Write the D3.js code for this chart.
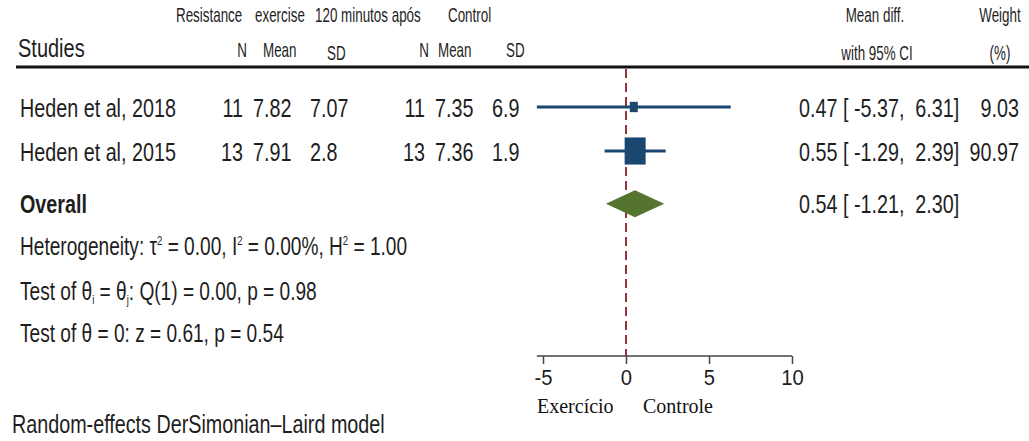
<!DOCTYPE html>
<html><head><meta charset="utf-8">
<script src="https://cdn.jsdelivr.net/npm/d3@7"></script>
<style>
  body { margin: 0; background: #fff; }
  svg { display: block; }
  text { font-family: "Liberation Sans", Arial, sans-serif; fill: #1e1e1e; white-space: pre; }
</style>
</head><body>
<svg id="chart" width="1029" height="441"></svg>
<script>
// Study-level data
const studies   = ["Heden et al, 2018", "Heden et al, 2015"];
const exN       = ["11", "13"];
const exMean    = ["7.82", "7.91"];
const exSD      = ["7.07", "2.8"];
const ctN       = ["11", "13"];
const ctMean    = ["7.35", "7.36"];
const ctSD      = ["6.9", "1.9"];
const meanDiff  = [0.47, 0.55];
const ciLow     = [-5.37, -1.29];
const ciHigh    = [6.31, 2.39];
const weights   = [9.03, 90.97];

// Pooled estimate
const overallMD   = 0.54;
const overallLow  = -1.21;
const overallHigh = 2.30;

const xTicks = [-5, 0, 5, 10];
const favourLabels = ["Exercício", "Controle"];

// Row slots (studies, overall, three statistics lines)
const studyRows = [0, 1];
const overallRow = 2.2;
const statRows = [3.15, 4.17, 5.12];

const NAVY = "#1a476f", RED = "#90353b", GREEN = "#55752f";

const svg = d3.select("#chart");
const x = d3.scaleLinear().domain([-5, 10]).range([543, 792]);
const rowY = d3.scaleLinear().domain([0, 1]).range([107, 151]);
const boxW = d3.scaleSqrt().domain([0, d3.max(weights)]).range([0, 21]);
const fmt = v => v.toFixed(2);
const pad = (s, n) => " ".repeat(Math.max(0, n - s.length)) + s;
const ciText = (m, lo, hi) => `${fmt(m)} [${pad(fmt(lo), 6)},${pad(fmt(hi), 6)}]`;

// Text helper: condensed glyphs via horizontal scaling
function label(x0, y0, str, o = {}) {
  const t = svg.append("text")
    .attr("transform", `translate(${x0},${y0}) scale(${o.sx ?? 0.76},1)`)
    .attr("text-anchor", o.anchor || "start")
    .style("font-size", (o.size ?? 26) + "px")
    .style("font-weight", o.weight || "normal");
  if (o.family) t.style("font-family", o.family);
  if (o.fill) t.style("fill", o.fill);
  if (Array.isArray(str)) {
    str.forEach(p => {
      const ts = t.append("tspan").text(p.t);
      if (p.dy) ts.attr("dy", p.dy);
      if (p.size) ts.style("font-size", p.size + "px");
    });
  } else t.text(str);
  return t;
}

// Header
const H = { size: 20, sx: 0.67 };
label(176, 22, "Resistance", H);
label(255, 22, "exercise", H);
label(315, 22, "120 minutos após", H);
label(448, 22, "Control", H);
label(875, 22, "Mean diff.", { ...H, anchor: "middle" });
label(1000, 22, "Weight", { ...H, anchor: "middle" });
label(18, 57, "Studies", { size: 25, sx: 0.8 });
label(247, 57, "N", { ...H, anchor: "end" });
label(263, 57, "Mean", H);
label(327, 60, "SD", H);
label(429, 57, "N", { ...H, anchor: "end" });
label(438, 57, "Mean", H);
label(506, 57, "SD", H);
label(877, 60, "with 95% CI", { ...H, anchor: "middle" });
label(1000, 60, "(%)", { ...H, anchor: "middle" });

svg.append("line").attr("x1", 16).attr("x2", 1029).attr("y1", 67).attr("y2", 67)
  .attr("stroke", "#111").attr("stroke-width", 3);

// Axis
const yAxis = 356;
const axis = svg.append("g").attr("transform", `translate(0,${yAxis})`)
  .call(d3.axisBottom(x).tickValues(xTicks).tickFormat(d => String(d))
    .tickSize(8).tickSizeOuter(0).tickPadding(5));
axis.select(".domain").remove();
axis.append("line").attr("x1", x(d3.min(ciLow))).attr("x2", x(10))
  .attr("stroke", "#444").attr("stroke-width", 1.5);
axis.selectAll(".tick line").attr("stroke", "#444").attr("stroke-width", 1.5);
axis.selectAll(".tick text")
  .style("font-size", "22px").style("fill", "#1e1e1e")
  .attr("font-family", null)
  .attr("transform", "scale(0.92,1)");

// Null line
svg.append("line").attr("x1", x(0)).attr("x2", x(0)).attr("y1", 69).attr("y2", yAxis)
  .attr("stroke", RED).attr("stroke-width", 2).attr("stroke-dasharray", "9,5");

// Study rows
studyRows.forEach((r, i) => {
  const cy = rowY(r), by = cy + 9.5;
  label(20, by, studies[i]);
  label(243, by, exN[i], { anchor: "end" });
  label(253, by, exMean[i]);
  label(310, by, exSD[i]);
  label(425, by, ctN[i], { anchor: "end" });
  label(435, by, ctMean[i]);
  label(492, by, ctSD[i]);
  label(799, by, ciText(meanDiff[i], ciLow[i], ciHigh[i]));
  label(1019, by, fmt(weights[i]), { anchor: "end" });

  svg.append("line").attr("x1", x(ciLow[i])).attr("x2", x(ciHigh[i]))
    .attr("y1", cy).attr("y2", cy).attr("stroke", NAVY).attr("stroke-width", 3);
  const w = Math.max(boxW(weights[i]), 8), h = w * 1.29;
  svg.append("rect").attr("x", x(meanDiff[i]) - w / 2).attr("y", cy - h / 2)
    .attr("width", w).attr("height", h).attr("fill", NAVY);
});

// Overall diamond
const oy = rowY(overallRow);
label(20, oy + 9.5, "Overall", { weight: "bold" });
label(799, oy + 9.5, ciText(overallMD, overallLow, overallHigh));
svg.append("path")
  .attr("d", d3.line()([[x(overallLow), oy], [x(overallMD), oy - 13.5], [x(overallHigh), oy], [x(overallMD), oy + 13.5]]) + "Z")
  .attr("fill", GREEN);

// Heterogeneity and test statistics
const S = { sx: 0.735 };
const sup = [{ t: "2", dy: -10, size: 13 }];
label(20, rowY(statRows[0]) + 9.5, [
  { t: "Heterogeneity: τ" }, ...sup, { t: " = 0.00, I", dy: 10 }, ...sup,
  { t: " = 0.00%, H", dy: 10 }, ...sup, { t: " = 1.00", dy: 10 }
], S);
label(20, rowY(statRows[1]) + 9.5, [
  { t: "Test of θ" }, { t: "i", dy: 4, size: 13 }, { t: " = θ", dy: -4 },
  { t: "j", dy: 4, size: 13 }, { t: ": Q(1) = 0.00, p = 0.98", dy: -4 }
], S);
label(20, rowY(statRows[2]) + 9.5, "Test of θ = 0: z = 0.61, p = 0.54", S);

label(12, 433, "Random-effects DerSimonian–Laird model", { size: 25, sx: 0.79 });

// Direction labels under the axis
const serif = "'Liberation Serif', 'Times New Roman', serif";
label(537, 413, favourLabels[0], { family: serif, size: 20, sx: 1, fill: "#111" });
label(643, 413, favourLabels[1], { family: serif, size: 20, sx: 1, fill: "#111" });
</script>
</body></html>
